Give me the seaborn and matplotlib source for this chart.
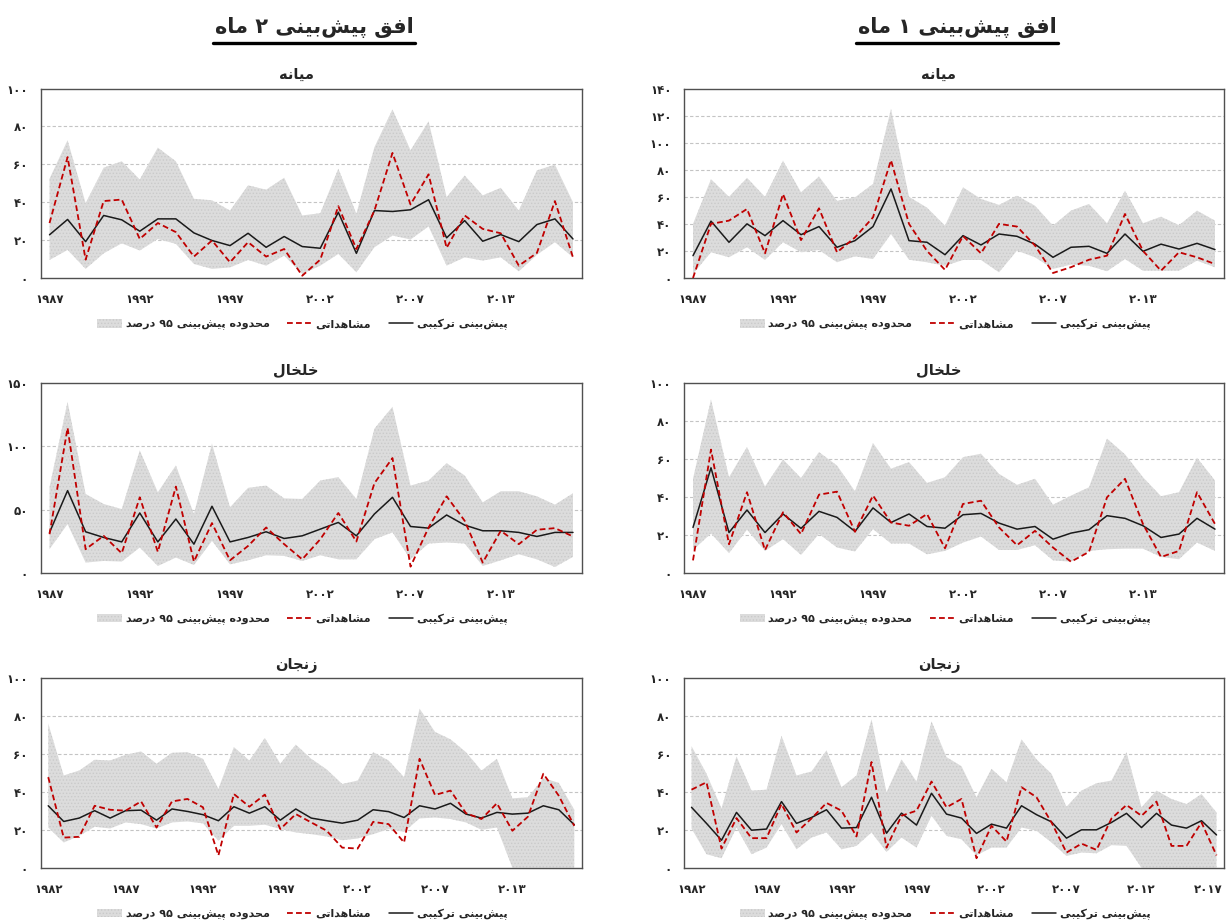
import re
import numpy as np
import pandas as pd
import matplotlib
matplotlib.use("Agg")
import matplotlib.pyplot as plt
import matplotlib.transforms as mtransforms
import seaborn as sns
from matplotlib.patches import Patch
from matplotlib.lines import Line2D

# ---------------- data ----------------
ticks_30 = [1987, 1992, 1997, 2002, 2007, 2013]
ticks_36 = [1982, 1987, 1992, 1997, 2002, 2007, 2012, 2017]
ticks_35 = [1982, 1987, 1992, 1997, 2002, 2007, 2013]

# Mianeh, 1-month horizon
m1_fc = [16.5, 42, 26.4, 40, 31.3, 42.4, 32, 38, 22.7, 27.6, 38, 65.8, 27.6, 26.4, 17.2, 31.3, 24.4, 32.5, 30.8, 25,
         15.3, 22.7, 23.4, 18.2, 32.5, 19.7, 25, 21.4, 25.6, 21]
m1_obs = [0, 40, 42.4, 51, 18.2, 62, 28, 51.5, 19, 30, 44.8, 87, 40, 20, 6, 31, 18.2, 40, 38, 24,
          3.7, 8, 13.5, 16.5, 47.3, 20, 5.4, 19, 15.3, 10.3]
m1_hi = [40, 73, 60, 74, 60, 86.7, 63.3, 75, 57, 59.6, 69.5, 125, 60, 52, 38.7, 67, 58.4, 54, 60.8, 53.4,
         38.7, 49.8, 54.7, 40.4, 64.5, 40.4, 45.3, 39, 49.8, 42.4]
m1_lo = [3, 19, 15.3, 22.7, 13.3, 26.4, 19, 20.7, 11.6, 16, 14, 32.5, 13.5, 11.6, 9, 13.3, 13.3, 4.2, 20.2, 15.3,
         6.7, 9.9, 9, 5, 14, 5.4, 5.4, 5.4, 12.8, 7.9]

# Mianeh, 2-month horizon
m2_fc = [22.8, 30.9, 19.2, 33, 30.7, 24.7, 31.2, 31.2, 23.8, 19.8, 17.1, 23.6, 16.2, 21.9, 16.6, 15.7, 34.7, 13, 35.6,
         35.1, 36, 41.3, 21.2, 30.3, 19.4, 22.9, 19.2, 28.2, 31.2, 20.6]
m2_obs = [29, 63.8, 9.7, 40.6, 41.4, 20.6, 29, 24.2, 11.3, 19.8, 8.3, 18.9, 11.3, 15.3, 1.2, 9.7, 37.9, 15.3, 35.6,
          66, 38.8, 54.7, 15.9, 33, 25.9, 23.6, 6.5, 13.2, 40.6, 10.9]
m2_hi = [52.4, 72.7, 39.5, 58.2, 61.6, 52, 68.8, 61.6, 41.8, 41, 35.6, 48.9, 46.6, 52.9, 33, 34.2, 57.7, 33.9, 69,
         89, 67.4, 82.7, 42.7, 54.1, 43.6, 47.6, 35.6, 56.8, 59.8, 40]
m2_lo = [9.5, 14.8, 4.8, 13, 18.3, 14.5, 20.6, 18, 7.4, 4.8, 5.6, 9.5, 6.5, 11.8, 2.1, 6.5, 12.7, 3, 16.2,
         22.4, 20.3, 27.2, 6.5, 10.9, 9.2, 10.9, 3.5, 12.2, 18.9, 10.9]

# Khalkhal, 1-month horizon
k1_fc = [23.9, 55.4, 21.2, 33.1, 21.2, 31, 23.4, 32.4, 29.2, 21.8, 34.2, 26.5, 31, 24.4, 23.5, 30.6, 31.3, 26.2, 23,
         24.4, 17.7, 20.9, 22.7, 30.1, 28.7, 24.8, 18.6, 20.4, 28.7, 23]
k1_obs = [6.5, 65, 15, 42.5, 11.9, 31.9, 20.4, 41.2, 42.8, 21.6, 40.7, 26.5, 24.8, 31, 12.9, 36.3, 38, 23.9, 14.5,
          22.1, 13.3, 5.8, 11, 39.8, 49.6, 25.7, 8.3, 11.5, 42.5, 25.7]
k1_hi = [49.6, 91.5, 50.4, 66.4, 45.5, 59.8, 50, 63.7, 56.6, 43, 68.5, 54.9, 58.4, 47.4, 50.4, 61, 62.8, 52.2, 46.4,
         49.6, 35.9, 40.7, 45.1, 70.8, 62.5, 50.4, 40.4, 42.5, 60.7, 48.7]
k1_lo = [11.9, 20.7, 10.3, 22.7, 11.5, 17.7, 9.4, 20.4, 13.3, 11.2, 23, 15.4, 15.4, 9.7, 11.5, 15.9, 19.1, 12, 12,
         14.5, 6.5, 5.8, 11.5, 12.4, 12.7, 12.7, 8.3, 7.1, 15.9, 11.5]

# Khalkhal, 2-month horizon
k2_fc = [31.9, 65, 32.4, 27.9, 24.4, 47.3, 24.4, 42.5, 22.6, 52.6, 24.4, 27.9, 32.4, 27.1, 29.2, 34.5, 39.8, 29.2,
         46.5, 59.7, 36.6, 35.3, 45.7, 37.7, 33.2, 33.2, 31.9, 28.7, 31.9, 31.9]
k2_obs = [30.5, 114.7, 18.6, 29.2, 15.4, 59.7, 16.5, 68.2, 8.8, 39.3, 9.8, 21.2, 35.8, 22.6, 10.6, 26.5, 47.3, 24.7,
          70.9, 90.8, 4.8, 35.8, 60.5, 41.1, 8, 33.2, 22.6, 34, 35.3, 28.7]
k2_hi = [67.7, 135.4, 62.4, 54.4, 50.4, 96.9, 63.7, 85, 46.5, 102.2, 51.8, 67.2, 69, 58.9, 58.4, 73, 75.7, 58.4,
         114.1, 131.4, 69, 73, 86.8, 77, 55.7, 64.5, 64.5, 60.5, 53.9, 62.9]
k2_lo = [18.6, 38.5, 8, 9.3, 8.8, 19.9, 5.3, 12, 6.1, 25.2, 6.6, 9.8, 13.8, 13.3, 9.3, 13.8, 10.6, 10.6,
         26.5, 31.9, 10.6, 23.1, 23.9, 23.1, 5.3, 9.8, 14.6, 10.6, 4.5, 12.5]

# Zanjan, 1-month horizon
z1_fc = [31.9, 23.4, 14.5, 29.2, 19.8, 20.4, 34.9, 23.4, 26.5, 30.6, 20.9, 21.2, 37.2, 18.2, 28.8, 22.5, 39.3, 28.3,
         26.2, 18.1, 23, 20.9, 32.7, 28, 24.2, 15.6, 20, 20, 23.9, 28.7, 21.2, 28.7, 22.5, 20.9, 24.8, 17.3]
z1_obs = [41.2, 45.1, 10.1, 26.2, 15.6, 15.6, 33.6, 18.6, 26, 34.2, 30.1, 16.5, 55.8, 10.6, 27.4, 30.1, 45.5, 31.9,
          36.3, 5, 22.1, 13.8, 42.5, 37.2, 23.9, 8, 12.7, 9.4, 26, 33.1, 27.4, 34.9, 11.5, 11.5, 23.9, 6.5]
z1_hi = [64.2, 49.6, 31.3, 58.8, 40.7, 41.2, 69.6, 48.7, 50.8, 62, 42.5, 48.7, 78.4, 39.8, 57.2, 45.5, 77.3, 58.4,
         53.6, 37.2, 52.2, 45.1, 67.8, 57.2, 49.6, 32.2, 40.7, 44.6, 46, 61, 31.9, 40.7, 36.3, 33.6, 38.9, 29.2]
z1_lo = [20.7, 7.1, 5, 21.2, 7.1, 10.6, 23, 9.7, 15.9, 18.6, 9.7, 11.5, 18.6, 8.3, 15.9, 10.6, 27.4, 16.8,
         15, 6.5, 10.6, 10.6, 21.2, 19.5, 13.3, 6.2, 8, 7.6, 11.9, 11.5, 0, 0, 0, 0, 0, 0]

# Zanjan, 2-month horizon
z2_fc = [32.7, 24.4, 26.2, 30.1, 26.2, 30.1, 30.4, 25.1, 31, 29.7, 28, 24.8, 32.2, 28.8, 32.2, 25.1, 31, 26.2,
         24.8, 23.5, 25.1, 30.6, 29.6, 26.5, 32.7, 31, 34, 28.3, 26.2, 29.2, 28.3, 28.8, 32.7, 30.6, 22.7]
z2_obs = [47.8, 15.9, 16.3, 32.7, 30.6, 30.1, 35, 21.2, 35, 36.3, 31.9, 6.5, 38.9, 32.2, 38.6, 20.4, 28.3, 23.9,
          19.5, 10.6, 10.1, 24.2, 23, 13.3, 57.5, 38.4, 40.7, 28.8, 25.7, 34, 19.5, 26.9, 49.6, 38, 22.1]
z2_hi = [76.1, 48.7, 51.3, 57, 56.6, 59.6, 61.4, 54.9, 60.7, 61, 57.5, 41.6, 63.7, 56.6, 68.5, 54.9, 65, 57.5,
         51.9, 44.2, 46, 61, 56.6, 47.8, 84, 71.7, 67.8, 61, 51.3, 57.5, 36.6, 37.2, 47.3, 44.8, 30.6]
z2_lo = [21.2, 13.3, 16.8, 21.6, 20.7, 23.9, 23, 20.7, 23.9, 24.4, 23.4, 14.2, 22.1, 22.1, 22.7, 20.4, 18.6, 17.7,
         16.5, 14.5, 15.4, 17.7, 20.4, 18.9, 26, 26.5, 25.7, 23.9, 20, 21.2, 0, 0, 0, 0, 0]

# text
title_h1 = "افق پیش\u200cبینی ۱ ماه"
title_h2 = "افق پیش\u200cبینی ۲ ماه"
name_m = "میانه"
name_k = "خلخال"
name_z = "زنجان"
lbl_band = "محدوده پیش\u200cبینی ۹۵ درصد"
lbl_obs = "مشاهداتی"
lbl_fc = "پیش\u200cبینی ترکیبی"

# ---------------- Persian shaping (presentation forms + RTL order) ----------------
FORMS = {
    '\u0627': ('\uFE8D', '\uFE8E', None, None),
    '\u0622': ('\uFE81', '\uFE82', None, None),
    '\u0628': ('\uFE8F', '\uFE90', '\uFE91', '\uFE92'),
    '\u067E': ('\uFB56', '\uFB57', '\uFB58', '\uFB59'),
    '\u062A': ('\uFE95', '\uFE96', '\uFE97', '\uFE98'),
    '\u062B': ('\uFE99', '\uFE9A', '\uFE9B', '\uFE9C'),
    '\u062C': ('\uFE9D', '\uFE9E', '\uFE9F', '\uFEA0'),
    '\u0686': ('\uFB7A', '\uFB7B', '\uFB7C', '\uFB7D'),
    '\u062D': ('\uFEA1', '\uFEA2', '\uFEA3', '\uFEA4'),
    '\u062E': ('\uFEA5', '\uFEA6', '\uFEA7', '\uFEA8'),
    '\u062F': ('\uFEA9', '\uFEAA', None, None),
    '\u0630': ('\uFEAB', '\uFEAC', None, None),
    '\u0631': ('\uFEAD', '\uFEAE', None, None),
    '\u0632': ('\uFEAF', '\uFEB0', None, None),
    '\u0698': ('\uFB8A', '\uFB8B', None, None),
    '\u0633': ('\uFEB1', '\uFEB2', '\uFEB3', '\uFEB4'),
    '\u0634': ('\uFEB5', '\uFEB6', '\uFEB7', '\uFEB8'),
    '\u0635': ('\uFEB9', '\uFEBA', '\uFEBB', '\uFEBC'),
    '\u0636': ('\uFEBD', '\uFEBE', '\uFEBF', '\uFEC0'),
    '\u0637': ('\uFEC1', '\uFEC2', '\uFEC3', '\uFEC4'),
    '\u0638': ('\uFEC5', '\uFEC6', '\uFEC7', '\uFEC8'),
    '\u0639': ('\uFEC9', '\uFECA', '\uFECB', '\uFECC'),
    '\u063A': ('\uFECD', '\uFECE', '\uFECF', '\uFED0'),
    '\u0641': ('\uFED1', '\uFED2', '\uFED3', '\uFED4'),
    '\u0642': ('\uFED5', '\uFED6', '\uFED7', '\uFED8'),
    '\u06A9': ('\uFB8E', '\uFB8F', '\uFB90', '\uFB91'),
    '\u06AF': ('\uFB92', '\uFB93', '\uFB94', '\uFB95'),
    '\u0644': ('\uFEDD', '\uFEDE', '\uFEDF', '\uFEE0'),
    '\u0645': ('\uFEE1', '\uFEE2', '\uFEE3', '\uFEE4'),
    '\u0646': ('\uFEE5', '\uFEE6', '\uFEE7', '\uFEE8'),
    '\u0647': ('\uFEE9', '\uFEEA', '\uFEEB', '\uFEEC'),
    '\u0648': ('\uFEED', '\uFEEE', None, None),
    '\u06CC': ('\uFBFC', '\uFBFD', '\uFBFE', '\uFBFF'),
}


def fa(s):
    s = s.replace('\u064A', '\u06CC').replace('\u0643', '\u06A9')
    out = []
    n = len(s)
    for i, c in enumerate(s):
        if c not in FORMS:
            if c != '\u200c':
                out.append(c)
            continue
        prev = s[i - 1] if i > 0 else ''
        nxt = s[i + 1] if i + 1 < n else ''
        cp = prev in FORMS and FORMS[prev][2] is not None
        cn = FORMS[c][2] is not None and nxt in FORMS
        iso, fin, ini, med = FORMS[c]
        if cp and cn:
            g = med
        elif cp:
            g = fin
        elif cn:
            g = ini
        else:
            g = iso
        out.append(g)
    shaped = ''.join(out)
    toks = re.findall(r'[0-9\u06F0-\u06F9]+|[^0-9\u06F0-\u06F9]+', shaped)
    return ''.join(t if t[0].isdigit() else t[::-1] for t in reversed(toks))


PD = str.maketrans('0123456789', '۰۱۲۳۴۵۶۷۸۹')


def pnum(v):
    return str(v).translate(PD)


# ---------------- style ----------------
sns.set_theme(style="white")
plt.rcParams['font.family'] = ['DejaVu Sans']
plt.rcParams['hatch.linewidth'] = 0.6

RED = '#c00000'
BLACK = '#1a1a1a'
BAND = '#dcdcdc'
BAND_H = '#cacaca'

W, H = 1227, 924
fig = plt.figure(figsize=(W / 100, H / 100), dpi=100)
fig.patch.set_facecolor('white')

cols = {1: (684, 1224), 2: (40.5, 582)}
rows = [(88.5, 278), (383.3, 572.7), (678.3, 867.7)]


def make_ax(col, row):
    x0, x1 = cols[col]
    y0, y1 = rows[row]
    return fig.add_axes([x0 / W, 1 - y1 / H, (x1 - x0) / W, (y1 - y0) / H])


def panel(ax, fc, obs, lo, hi, ytop, ystep, xlabels, title, shift_last=0):
    n = len(fc)
    x = np.arange(n)
    ax.fill_between(x, lo, hi, facecolor=BAND, edgecolor=BAND_H, hatch='.....', linewidth=0, zorder=1)
    sns.lineplot(x=x, y=fc, ax=ax, color=BLACK, lw=1.1, zorder=3)
    sns.lineplot(x=x, y=obs, ax=ax, color=RED, lw=1.3, linestyle=(0, (3.2, 1.8)), zorder=4)
    ax.set_xlim(-0.5, n - 0.5)
    ax.set_ylim(0, ytop)
    yt = list(range(0, ytop + 1, ystep))
    ax.set_yticks(yt)
    ax.set_yticklabels([pnum(v) for v in yt], fontsize=8.5, fontweight='bold')
    ax.set_xticks(list(range(0, 5 * len(xlabels), 5)))
    ax.set_xticklabels([pnum(v) for v in xlabels], fontsize=8.5, fontweight='bold')
    ax.tick_params(axis='both', length=0)
    ax.tick_params(axis='y', pad=9)
    ax.tick_params(axis='x', pad=11)
    if shift_last:
        lab = ax.get_xticklabels()[-1]
        lab.set_transform(lab.get_transform() +
                          mtransforms.ScaledTranslation(shift_last / 100, 0, fig.dpi_scale_trans))
    ax.grid(False)
    for v in yt[1:-1]:
        ax.axhline(v, color='#c4c4c4', lw=0.8, linestyle=(0, (3, 2)), zorder=0.5)
    for sp in ax.spines.values():
        sp.set_visible(True)
        sp.set_color('#505050')
        sp.set_linewidth(1.0)
    ax.set_xlabel('')
    ax.set_ylabel('')
    ax.set_title(fa(title), fontsize=10.5, fontweight='bold', x=0.472, pad=7)
    handles = [Patch(facecolor=BAND, edgecolor=BAND_H, hatch='.....', linewidth=0),
               Line2D([0], [0], color=RED, lw=1.3, linestyle=(0, (3.2, 1.8))),
               Line2D([0], [0], color=BLACK, lw=1.1)]
    labels = [fa(lbl_band), fa(lbl_obs), fa(lbl_fc)]
    ax.legend(handles, labels, loc='center', bbox_to_anchor=(0.484, -0.245), ncol=3, frameon=False,
              prop={'size': 8, 'weight': 'bold'}, handlelength=2.2, handleheight=0.8,
              handletextpad=0.35, columnspacing=1.6)


panel(make_ax(1, 0), m1_fc, m1_obs, m1_lo, m1_hi, 140, 20, ticks_30, name_m)
panel(make_ax(2, 0), m2_fc, m2_obs, m2_lo, m2_hi, 100, 20, ticks_30, name_m)
panel(make_ax(1, 1), k1_fc, k1_obs, k1_lo, k1_hi, 100, 20, ticks_30, name_k)
panel(make_ax(2, 1), k2_fc, k2_obs, k2_lo, k2_hi, 150, 50, ticks_30, name_k)
panel(make_ax(1, 2), z1_fc, z1_obs, z1_lo, z1_hi, 100, 20, ticks_36, name_z, shift_last=-8)
panel(make_ax(2, 2), z2_fc, z2_obs, z2_lo, z2_hi, 100, 20, ticks_35, name_z)

t1 = fig.text(957 / W, 1 - 27 / H, fa(title_h1), ha='center', va='center', fontsize=15, fontweight='bold')
t2 = fig.text(314 / W, 1 - 27 / H, fa(title_h2), ha='center', va='center', fontsize=15, fontweight='bold')

fig.canvas.draw()
r = fig.canvas.get_renderer()
for t in (t1, t2):
    bb = t.get_window_extent(r)
    y = (bb.y0 - 5) / H
    fig.add_artist(Line2D([(bb.x0 - 2) / W, (bb.x1 + 2) / W], [y, y], transform=fig.transFigure,
                          color='black', lw=2.4))

fig.savefig('out.png', dpi=100, facecolor='white')
